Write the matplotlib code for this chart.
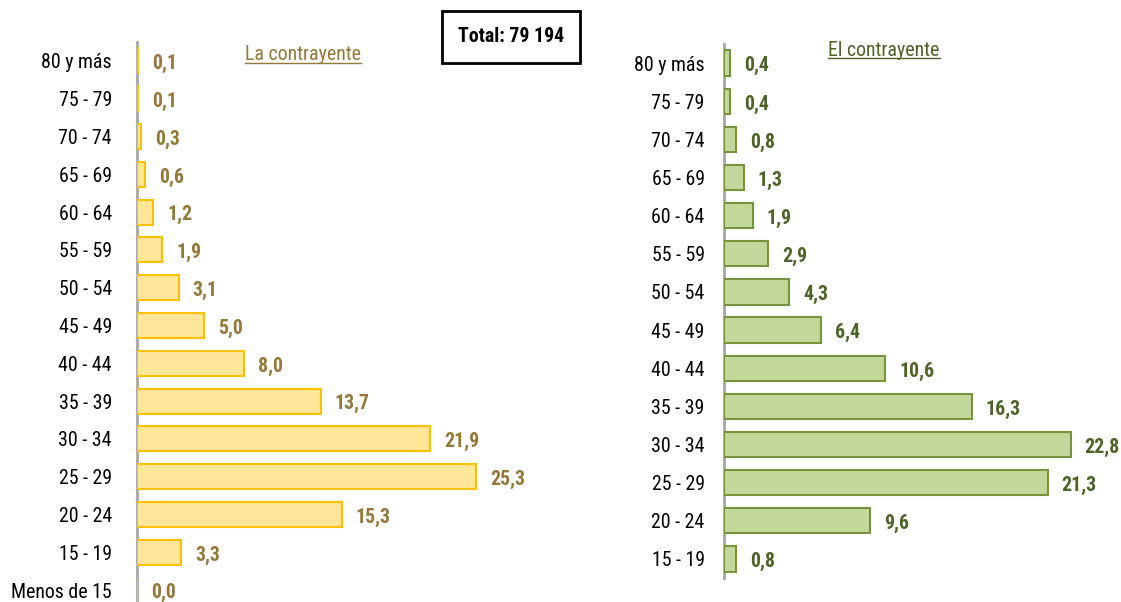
import matplotlib
matplotlib.use("Agg")
import matplotlib.pyplot as plt
from matplotlib.lines import Line2D

plt.rcParams['font.family'] = ['Roboto Condensed', 'Archivo Narrow', 'Liberation Sans', 'DejaVu Sans']

# datos
edades_ella = ["80 y más", "75 - 79", "70 - 74", "65 - 69", "60 - 64", "55 - 59", "50 - 54",
               "45 - 49", "40 - 44", "35 - 39", "30 - 34", "25 - 29", "20 - 24", "15 - 19",
               "Menos de 15"]
valores_ella = [0.1, 0.1, 0.3, 0.6, 1.2, 1.9, 3.1, 5.0, 8.0, 13.7, 21.9, 25.3, 15.3, 3.3, 0.0]

edades_el = ["80 y más", "75 - 79", "70 - 74", "65 - 69", "60 - 64", "55 - 59", "50 - 54",
             "45 - 49", "40 - 44", "35 - 39", "30 - 34", "25 - 29", "20 - 24", "15 - 19"]
valores_el = [0.4, 0.4, 0.8, 1.3, 1.9, 2.9, 4.3, 6.4, 10.6, 16.3, 22.8, 21.3, 9.6, 0.8]

total = "Total: 79 194"

W, H = 1121, 602
FS = 14.3
fig = plt.figure(figsize=(W / 100, H / 100), dpi=100)


def panel(rect, edades, valores, xmax, fill, edge, txt_col, pad):
    ax = fig.add_axes(rect)
    y = list(range(len(edades)))
    ax.barh(y, valores, height=0.66, color=fill, edgecolor=edge, linewidth=1.5, zorder=3)
    ax.set_ylim(len(edades) - 0.5, -0.5)
    ax.set_xlim(0, xmax)
    ax.set_yticks(y)
    ax.set_yticklabels(edades, fontsize=FS)
    ax.tick_params(axis='y', length=0, pad=pad)
    ax.set_xticks([])
    for s in ['top', 'right', 'bottom']:
        ax.spines[s].set_visible(False)
    ax.spines['left'].set_color('#A6A6A6')
    ax.spines['left'].set_linewidth(2)
    ax.spines['left'].set_zorder(1)
    for yi, v in zip(y, valores):
        ax.annotate(f"{v:.1f}".replace('.', ','), (v, yi), xytext=(10, -2),
                    textcoords='offset points', ha='left', va='center',
                    fontsize=FS, fontweight='bold', color=txt_col)
    return ax


ax1 = panel([137 / W, -7 / H, 402 / W, 567 / H], edades_ella, valores_ella, 30,
            '#FFE699', '#FFC000', '#94783A', 18)
ax2 = panel([724 / W, 24 / H, 380 / W, 534 / H], edades_el, valores_el, 25,
            '#C4D79B', '#77933C', '#4F6228', 14)

# titulos subrayados
t1 = fig.text(303 / W, 1 - 55 / H, "La contrayente", ha='center', va='center',
              fontsize=FS, color='#94783A')
t2 = fig.text(884 / W, 1 - 50 / H, "El contrayente", ha='center', va='center',
              fontsize=FS, color='#4F6228')

fig.text(511 / W, 1 - 37 / H, total, ha='center', va='center', fontsize=FS,
         fontweight='bold',
         bbox=dict(boxstyle='square,pad=0.82', facecolor='white', edgecolor='black', linewidth=2))

fig.canvas.draw()
r = fig.canvas.get_renderer()
for t in (t1, t2):
    bb = t.get_window_extent(r)
    yl = (bb.y0 + 2) / H
    fig.add_artist(Line2D([bb.x0 / W, bb.x1 / W], [yl, yl], color=t.get_color(), linewidth=1))

fig.savefig("out.png", dpi=100)
